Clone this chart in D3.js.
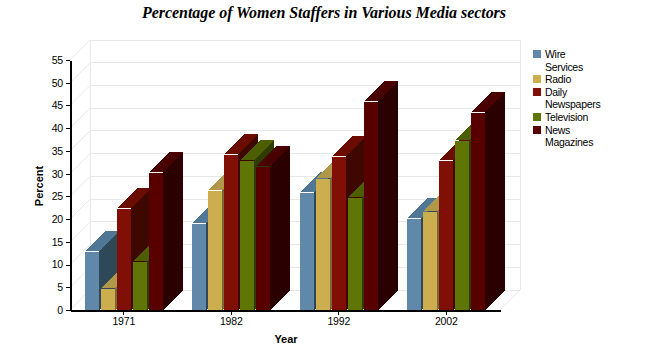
<!DOCTYPE html>
<html>
<head>
<meta charset="utf-8">
<script src="https://cdn.jsdelivr.net/npm/d3@7"></script>
<style>
    html, body { margin: 0; padding: 0; background: #fff; }
    svg { display: block; }
    text { font-family: "Liberation Sans", Arial, sans-serif; fill: #000; }
</style>
</head>
<body>
<div id="chart"></div>
<script>
    const years = ['1971', '1982', '1992', '2002'];
    const seriesNames = ['Wire Services', 'Radio', 'Daily Newspapers', 'Television', 'News Magazines'];
    const wireServices = [13, 19.1, 25.9, 20.2];
    const radio = [4.8, 26.4, 29, 21.8];
    const dailyNewspapers = [22.4, 34.3, 33.9, 33];
    const television = [10.8, 33, 24.8, 37.4];
    const newsMagazines = [30.4, 31.7, 46, 43.5];
    const yTicks = d3.range(0, 60, 5);

    const allValues = [wireServices, radio, dailyNewspapers, television, newsMagazines];

    const frontColors = ['#6088a8', '#ccae4e', '#800f05', '#5f7506', '#580000'];
    const topColors = ['#507896', '#b09848', '#6a0c00', '#4c5e00', '#480000'];
    const sideColors = ['#2f4858', '#78683a', '#3e0800', '#2f3c00', '#2b0000'];

    const width = 650;
    const height = 350;
    const margin = { left: 70, right: 150, top: 60, bottom: 40 };
    const depth = 20;

    const svg = d3.select('#chart').append('svg')
        .attr('width', width)
        .attr('height', height);

    const x = d3.scaleBand()
        .domain(years)
        .range([margin.left, width - margin.right]);

    const xInner = d3.scaleBand()
        .domain(d3.range(seriesNames.length))
        .range([15, 95]);

    const y = d3.scaleLinear()
        .domain([0, 55])
        .range([height - margin.bottom, margin.top]);

    // back wall and left wall grid
    const grid = svg.append('g')
        .attr('stroke', '#e8e8e8')
        .attr('fill', 'none')
        .attr('shape-rendering', 'crispEdges');

    grid.selectAll('line.h')
        .data(yTicks)
        .join('line')
        .attr('class', 'h')
        .attr('x1', margin.left + depth)
        .attr('x2', width - margin.right + depth)
        .attr('y1', d => y(d) - depth)
        .attr('y2', d => y(d) - depth);

    [margin.left + depth, width - margin.right + depth].forEach(wallX => {
        grid.append('line')
            .attr('x1', wallX)
            .attr('x2', wallX)
            .attr('y1', y(55) - depth)
            .attr('y2', y(0) - depth);
    });

    const diag = svg.append('g')
        .attr('stroke', '#e8e8e8')
        .attr('fill', 'none');

    diag.selectAll('line')
        .data(yTicks)
        .join('line')
        .attr('x1', margin.left)
        .attr('x2', margin.left + depth)
        .attr('y1', d => y(d))
        .attr('y2', d => y(d) - depth);

    diag.append('line')
        .attr('x1', width - margin.right)
        .attr('x2', width - margin.right + depth)
        .attr('y1', y(0))
        .attr('y2', y(0) - depth);

    // bars, left to right so each one covers the side of the one before
    const barW = 14;
    const bars = svg.append('g').attr('shape-rendering', 'crispEdges');

    years.forEach((year, i) => {
        allValues.forEach((values, s) => {
            const x0 = Math.floor(x(year) + xInner(s));
            const x1 = x0 + barW;
            const top = Math.round(y(values[i]));
            const base = y(0);
            const g = bars.append('g');
            g.append('path')
                .attr('fill', sideColors[s])
                .attr('d', d3.line()([[x1, top], [x1 + depth, top - depth], [x1 + depth, base - depth], [x1, base]]));
            g.append('path')
                .attr('fill', topColors[s])
                .attr('d', d3.line()([[x0, top], [x0 + depth, top - depth], [x1 + depth, top - depth], [x1, top]]));
            g.append('rect')
                .attr('x', x0)
                .attr('y', top + 1)
                .attr('width', barW)
                .attr('height', base - top - 1)
                .attr('fill', frontColors[s]);
        });
    });

    // axes
    const yAxis = d3.axisLeft(y).tickValues(yTicks).tickSize(4).tickSizeOuter(0).tickPadding(3);
    const xAxis = d3.axisBottom(x).tickSize(5).tickSizeOuter(0).tickPadding(3);

    svg.append('g')
        .attr('transform', `translate(${margin.left},0)`)
        .call(yAxis);
    svg.append('g')
        .attr('transform', `translate(0,${height - margin.bottom})`)
        .call(xAxis);

    svg.selectAll('.domain')
        .attr('stroke', '#000')
        .attr('stroke-width', 2)
        .attr('shape-rendering', 'crispEdges');
    svg.selectAll('.tick line').attr('stroke', '#000').attr('shape-rendering', 'crispEdges');
    svg.selectAll('.tick text')
        .attr('font-size', 10.5)
        .attr('letter-spacing', '-0.2px')
        .attr('font-family', '"Liberation Sans", Arial, sans-serif');

    svg.append('text')
        .attr('x', 324)
        .attr('y', 18)
        .attr('text-anchor', 'middle')
        .attr('font-size', 16)
        .attr('font-weight', 'bold')
        .attr('font-style', 'italic')
        .style('font-family', '"Liberation Serif", "Times New Roman", serif')
        .attr('textLength', 364)
        .text('Percentage of Women Staffers in Various Media sectors');

    svg.append('text')
        .attr('x', 286)
        .attr('y', 343)
        .attr('text-anchor', 'middle')
        .attr('font-size', 11)
        .attr('font-weight', 'bold')
        .text('Year');

    svg.append('text')
        .attr('transform', 'translate(43,186) rotate(-90)')
        .attr('text-anchor', 'middle')
        .attr('font-size', 11)
        .attr('font-weight', 'bold')
        .text('Percent');

    // legend, long names wrap on two lines
    const legend = svg.append('g')
        .attr('font-size', 10.5)
        .attr('letter-spacing', '-0.3px');
    let legendY = 50;
    seriesNames.forEach((name, s) => {
        legend.append('rect')
            .attr('x', 533)
            .attr('y', legendY)
            .attr('width', 8)
            .attr('height', 8)
            .attr('fill', frontColors[s])
            .attr('shape-rendering', 'crispEdges');
        name.split(' ').forEach(part => {
            legend.append('text')
                .attr('x', 545)
                .attr('y', legendY + 8)
                .text(part);
            legendY += 12.6;
        });
    });
</script>
</body>
</html>
